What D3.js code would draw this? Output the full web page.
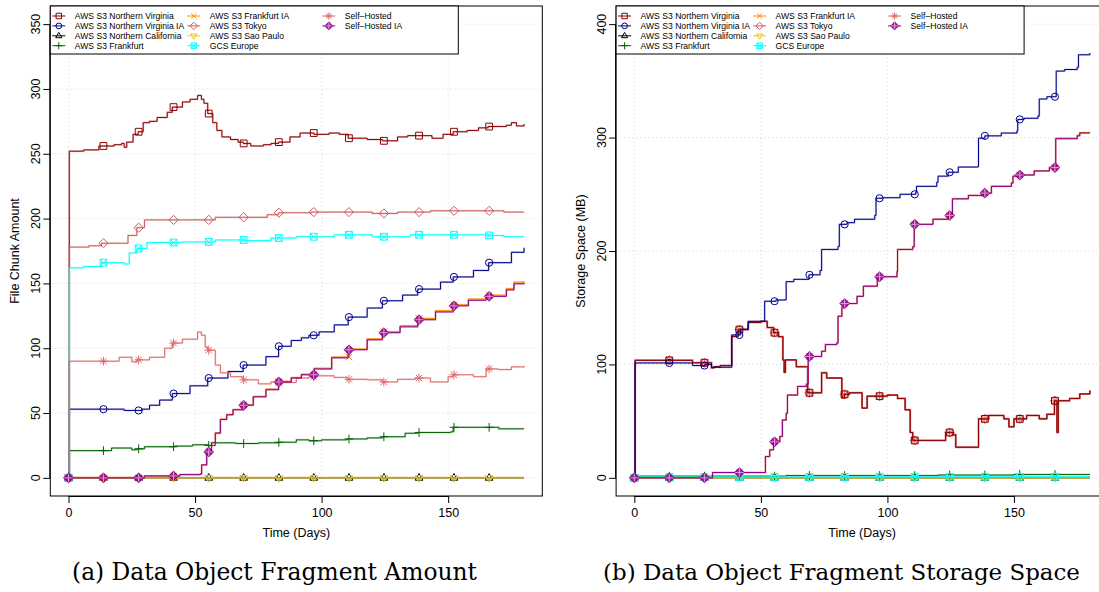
<!DOCTYPE html>
<html><head><meta charset="utf-8">
<script src="https://cdn.jsdelivr.net/npm/d3@7"></script>
<style>body{margin:0;background:#fff}svg{display:block}</style>
</head><body>
<svg id="chart" width="1099" height="592"></svg>
<script>
// ---------------- data ----------------
const seriesNames = ["AWS S3 Northern Virginia","AWS S3 Northern Virginia IA","AWS S3 Northern California","AWS S3 Frankfurt",
  "AWS S3 Frankfurt IA","AWS S3 Tokyo","AWS S3 Sao Paulo","GCS Europe","Self\u2013Hosted","Self\u2013Hosted IA"];
const markerDays = [0,13.8,27.7,41.5,55.4,69.2,83.1,96.9,110.8,124.6,138.5,152.3,166.2];
const xTicks = [0,50,100,150];
const yTicksAmount = [0,50,100,150,200,250,300,350];
const yTicksStorage = [0,100,200,300,400];
const captions = ["(a) Data Object Fragment Amount","(b) Data Object Fragment Storage Space"];
const axisTitles = {x:"Time (Days)", yAmount:"File Chunk Amount", yStorage:"Storage Space (MB)"};

// panel (a): file chunk amount, [day, value] step points
const amountNVirginia = [[0,0],[0.3,252],[6,253],[12,256],[18,257],[21,258],[22,255],[23,259],[25.5,265],[27.5,267],[29.5,274],[32,275],[35,278],[39,282],[41,286],[45,290],[48,292],[51,295],[52.5,292],[53.5,289],[55,281],[57,274],[58.6,268],[60.6,263],[64,261],[67,259],[69,258],[72,256],[77,257],[80,258],[83,259],[87.5,263],[91.5,266],[97,265],[103,266],[107,265],[110.5,262],[114,262],[118,261],[124,260],[130,263],[134,264],[138,264],[143.6,262],[148,265],[152,267],[157.5,268],[162,270],[165.8,271],[170.5,271],[173,272],[175,274],[177,271.5],[180,273]];
const amountNVirginiaIA = [[0,0],[0.3,53],[20,53],[22,52],[29,53],[32,56],[36,60],[41,65],[48,71],[55,77],[63,82],[69,87],[78,93.5],[83,101.5],[88,106],[92,108],[95,110],[99,112.6],[105,118],[110.5,124],[118,131],[124,136.6],[132,141],[138,145.6],[147,151],[152,155],[160,160],[166,166],[175,174],[180,177.5]];
const amountNCalifornia = [[0,0],[180,0]];
const amountFrankfurt = [[0,0],[0.3,21],[17,23],[25,21.6],[27,22.4],[30,24],[42,24.5],[49,25.5],[55,25],[58,27],[66,26.5],[75,27],[83,27.5],[90,29.3],[95,28.6],[100,29.3],[110,30],[118,30.8],[124,31.7],[133,34.4],[138,35],[151,35.5],[152,39],[170,37.8],[180,37.8]];
const amountFrankfurtIA = [[0,0],[30,1.5],[44,2.5],[52,3],[52.6,10],[54.6,20.3],[56.5,27.3],[58,34.8],[60,45.3],[62.5,48.9],[65,52.8],[69,56.3],[73,62.8],[78,68.5],[83,74.5],[88,77.5],[92,80],[97,84.6],[104,93.2],[111,99.4],[118,107.2],[124,112.8],[131,117.4],[138,123],[145,129],[152,133.5],[158,138],[166,141],[173,146],[176,151],[180,151.7]];
const amountTokyo = [[0,0],[0.3,178],[8,179],[13,181],[21,181],[23.5,187],[27,193],[30,199],[45,199],[58,201],[70,201],[78.5,203],[83,204.5],[96,205],[110,205],[120,204],[130,205],[140,205],[143,206],[165,206],[172,205],[180,205]];
const amountSaoPaulo = [[0,0],[180,0]];
const amountGCSEurope = [[0,0],[0.3,162],[6,163],[13,166],[22,165],[24,173.5],[27,177],[31,181.5],[45,182],[58,183.5],[70,183],[80,185],[90,186],[105,187.5],[120,186],[135,187.5],[155,187.5],[165,187],[172,186],[180,186]];
const amountSelfHosted = [[0,0],[0.3,90],[20,93],[25,89.5],[27,91],[32,93],[38,100],[41,104],[45,107],[51,112.5],[52.5,110],[54,101],[55,98.5],[58,87],[60,81],[64,78],[69,75.6],[75,72.5],[80,74],[83,73.5],[90,77],[95,78],[97,78.7],[105,77.5],[110,76],[118,75.6],[124,74],[130,76],[137,77],[143,74],[150,78],[152,79.5],[160,78],[165,84],[170,83.5],[175,85.6],[180,86.5]];
const amountSelfHostedIA = [[0,0],[30,1.5],[44,2.5],[52,3],[52.6,10],[54.6,20],[56.5,27],[58,34.5],[60,45],[62.5,48.6],[65,52.5],[69,56],[73,62.5],[78,68],[83,74],[88,77],[92,79.5],[97,84],[104,92.6],[110.5,98.8],[118,106.5],[124,112],[131,116.5],[138,122],[145,128],[152,132.7],[158,137],[165,140],[173,145],[176,149.7],[180,150.5]];

// panel (b): storage space (MB)
const storageNVirginia = [[0,0],[0.3,103.6],[23,101.5],[30.5,97],[31.5,98],[34,99],[38.5,124.6],[41,130.7],[45,137],[50,138],[52.5,132.5],[55,128],[57,124.5],[58.7,104],[59.2,93],[59.7,104],[64,98],[68.5,75],[74,92.6],[76,88],[82,70.6],[83,73.6],[85,75],[90,61.5],[92,72],[100,73],[104,70],[107,60],[109,40],[110,33],[122,33],[123,40],[126,38],[127,27],[135,27],[136,52],[140,55],[146,52],[148,45],[150,52],[155,55],[160,52],[163,56],[166,68],[167,40],[167.5,68],[172,70],[176,74],[180,77]];
const storageNVirginiaIA = [[0,0],[0.3,101.3],[23,99],[28,100],[30.5,97.5],[38.5,126],[42,131],[45,138],[51.5,155.7],[56,156.8],[59.5,157],[60,173],[63,175],[69,179],[73.4,182.8],[74,201.4],[80.5,204],[81,223.5],[84,225],[87,228],[95,231.4],[95.5,246.5],[98,247],[105,250],[111.2,251.7],[111.5,257],[119.5,260.6],[120,266],[124,269.4],[128,274],[135.8,274.7],[136,299.5],[138.5,301.5],[145,304],[151.2,306],[151.5,316],[154,317],[159.5,319],[160,334],[163,336],[166.7,358.6],[170,360],[175,362],[175.5,373],[180,374.6]];
const storageNCalifornia = [[0,0],[180,0]];
const storageFrankfurt = [[0,0],[0.3,1.5],[60,2],[120,2.5],[150,3],[180,3]];
const storageFrankfurtIA = [[0,0],[30.9,4.7],[51.8,18.8],[53.5,24.7],[55,31.8],[57.5,36.5],[58.5,51],[60,57],[60.5,73],[64.5,80.6],[68,82.7],[68.7,107],[74,111.6],[75.5,117.5],[80,119],[80.5,142.5],[82,150],[83,153.7],[88,160],[90.5,169],[96,177.3],[103.8,182],[104,201.4],[110,203.8],[110.6,223.5],[118,228],[124,231.4],[125.7,246],[132,249],[138,251],[141.1,257],[149,260],[149.6,266],[152,267],[158,270.6],[164,273.6],[166.5,299.5],[175,302],[176,304.5],[180,305]];
const storageTokyo = storageNVirginia;
const storageSaoPaulo = [[0,0],[180,0]];
const storageGCSEurope = [[0,0],[0.3,0.8],[90,1],[180,1.2]];
const storageSelfHosted = storageNVirginia;
const storageSelfHostedIA = [[0,0],[30.9,4.7],[51.8,18.8],[53.5,24.7],[55,31.8],[57.5,36.5],[58.5,51],[60,57],[60.5,73],[64.5,80.6],[68,82.7],[68.7,107],[74,111.6],[75.5,117.5],[80,119],[80.5,142.5],[82,150],[83,153.7],[88,160],[90.5,169],[96,177.3],[103.8,182],[104,201.4],[110,203.8],[110.6,223.5],[118,228],[124,231.4],[125.7,246],[132,249],[138,251],[141.1,257],[149,260],[149.6,266],[152,267],[158,270.6],[164,273.6],[166.5,299],[175,301.5],[176,304],[180,304]];

const amountSeries = [amountNVirginia,amountNVirginiaIA,amountNCalifornia,amountFrankfurt,amountFrankfurtIA,amountTokyo,amountSaoPaulo,amountGCSEurope,amountSelfHosted,amountSelfHostedIA];
const storageSeries = [storageNVirginia,storageNVirginiaIA,storageNCalifornia,storageFrankfurt,storageFrankfurtIA,storageTokyo,storageSaoPaulo,storageGCSEurope,storageSelfHosted,storageSelfHostedIA];

// ---------------- styles ----------------
const seriesColors = ["#8B0000","#00008B","#000000","#006400","#FF8C00","#CD5C5C","#F5C800","#00FFFF","#DE6A6A","#8B008B"];
const seriesShapes = ["square","circle","triangle","plus","cross","diamond","triangleDown","squareX","asterisk","diamondPlus"];
const drawOrderAmount = [0,1,2,3,4,5,6,7,8,9];
const drawOrderStorage = [5,8,0,1,2,3,4,6,7,9];
const sans = "'Liberation Sans', Arial, Helvetica, sans-serif";

const svg = d3.select("#chart");

function markerPath(shape, k){
  const s = 3.4*k;
  const p = d3.path();
  const tri = (dir)=>{ const h=4.3*k; p.moveTo(0,-dir*h); p.lineTo(h*0.9, dir*h*0.55); p.lineTo(-h*0.9, dir*h*0.55); p.closePath(); };
  const plus = (r)=>{ p.moveTo(-r,0); p.lineTo(r,0); p.moveTo(0,-r); p.lineTo(0,r); };
  const xx = (r)=>{ p.moveTo(-r,-r); p.lineTo(r,r); p.moveTo(-r,r); p.lineTo(r,-r); };
  const dia = (r)=>{ p.moveTo(0,-r); p.lineTo(r,0); p.lineTo(0,r); p.lineTo(-r,0); p.closePath(); };
  switch(shape){
    case "square": p.rect(-s,-s,2*s,2*s); break;
    case "circle": p.moveTo(3.6*k,0); p.arc(0,0,3.6*k,0,2*Math.PI); break;
    case "triangle": tri(1); break;
    case "triangleDown": tri(-1); break;
    case "plus": plus(4.4*k); break;
    case "cross": xx(3.3*k); break;
    case "diamond": dia(4.6*k); break;
    case "squareX": p.rect(-s,-s,2*s,2*s); xx(s); break;
    case "asterisk": plus(4.4*k); xx(3.2*k); break;
    case "diamondPlus": dia(4.6*k); plus(4.6*k); break;
  }
  return p.toString();
}

function drawMarker(g, i, cx, cy, k){
  const shape = seriesShapes[i], col = seriesColors[i];
  if(shape==="diamondPlus"){
    g.append("path").attr("transform",`translate(${cx},${cy})`)
      .attr("d", markerPath("diamond",k)).attr("fill",col).attr("fill-opacity",0.75).attr("stroke",col).attr("stroke-width",1.1);
    g.append("path").attr("transform",`translate(${cx},${cy})`)
      .attr("d", markerPath("plus",k*1.0)).attr("fill","none").attr("stroke","#E8A0E0").attr("stroke-width",0.9);
  } else {
    g.append("path").attr("transform",`translate(${cx},${cy})`)
      .attr("d", markerPath(shape,k)).attr("fill","none").attr("stroke",col).attr("stroke-width",1);
  }
}

function stepValue(data, day){
  let v = data[0][1];
  for(const [d,val] of data){ if(d<=day) v=val; else break; }
  return v;
}

function drawPanel(cfg){
  const g = svg.append("g");
  const boxL = cfg.left, boxR = cfg.left + 492, boxT = 6, boxB = 496;
  const x = d3.scaleLinear().domain([-7.2,187.2]).range([boxL,boxR]);
  const y = d3.scaleLinear().domain(cfg.yDomain).range([boxB,boxT]);
  const clipId = "clip"+cfg.id;
  svg.append("clipPath").attr("id",clipId).append("rect")
    .attr("x",boxL).attr("y",boxT).attr("width",boxR-boxL).attr("height",boxB-boxT);

  // grid
  const grid = g.append("g").attr("stroke","#d3d3d3").attr("stroke-width",0.9).attr("stroke-dasharray","1,3");
  xTicks.forEach(t=>grid.append("line").attr("x1",x(t)).attr("x2",x(t)).attr("y1",boxT).attr("y2",boxB));
  cfg.yTicks.forEach(t=>grid.append("line").attr("x1",boxL).attr("x2",boxR).attr("y1",y(t)).attr("y2",y(t)));

  // series
  const plot = g.append("g").attr("clip-path",`url(#${clipId})`);
  const line = d3.line().x(d=>x(d[0])).y(d=>y(d[1])).curve(d3.curveStepAfter);
  cfg.order.forEach(i=>{
    const data = cfg.series[i];
    const col = seriesColors[i];
    plot.append("path").attr("d",line(data)).attr("fill","none").attr("stroke",col).attr("stroke-opacity",0.22).attr("stroke-width",2);
    plot.append("path").attr("d",line(data)).attr("fill","none").attr("stroke",col).attr("stroke-width",1);
    markerDays.forEach(dd=>drawMarker(plot,i,x(dd),y(stepValue(data,dd)),1));
  });

  // box
  g.append("rect").attr("x",boxL).attr("y",boxT).attr("width",boxR-boxL).attr("height",boxB-boxT)
    .attr("fill","none").attr("stroke","#000").attr("stroke-width",1);

  // axes
  const xa = g.append("g").attr("transform",`translate(0,${boxB})`)
    .call(d3.axisBottom(x).tickValues(xTicks).tickSize(7).tickPadding(5).tickFormat(d3.format("d")));
  xa.select(".domain").attr("d",`M${x(xTicks[0])},0.5H${x(xTicks[xTicks.length-1])}`).attr("stroke","#000");
  xa.selectAll("text").attr("font-family",sans).attr("font-size","12.5px").attr("fill","#000");
  const ya = g.append("g").attr("transform",`translate(${boxL},0)`)
    .call(d3.axisLeft(y).tickValues(cfg.yTicks).tickSize(7).tickFormat(d3.format("d")));
  ya.select(".domain").attr("d",`M-0.5,${y(cfg.yTicks[0])}V${y(cfg.yTicks[cfg.yTicks.length-1])}`).attr("stroke","#000");
  ya.selectAll("text").remove();
  cfg.yTicks.forEach(t=>{
    g.append("text").attr("transform",`translate(${boxL-10},${y(t)}) rotate(-90)`)
      .attr("text-anchor","middle").attr("font-family",sans).attr("font-size","12.5px").text(t);
  });

  // titles
  g.append("text").attr("x",(boxL+boxR)/2).attr("y",537).attr("text-anchor","middle")
    .attr("font-family",sans).attr("font-size","12.5px").text(axisTitles.x);
  g.append("text").attr("transform",`translate(${boxL-31},${(boxT+boxB)/2}) rotate(-90)`)
    .attr("text-anchor","middle").attr("font-family",sans).attr("font-size","12.5px").text(cfg.yTitle);

  // legend
  const lg = g.append("g").attr("transform",`translate(${boxL},${boxT})`);
  lg.append("rect").attr("x",0).attr("y",0).attr("width",408).attr("height",48)
    .attr("fill","#fff").attr("stroke","#000").attr("stroke-width",1);
  seriesNames.forEach((name,i)=>{
    const col = Math.floor(i/4), row = i%4;
    const cx = col*135, cy = 10 + row*9.9;
    lg.append("line").attr("x1",cx+2).attr("x2",cx+15).attr("y1",cy).attr("y2",cy)
      .attr("stroke",seriesColors[i]).attr("stroke-width",1);
    drawMarker(lg,i,cx+8.5,cy,0.8);
    lg.append("text").attr("x",cx+24.5).attr("y",cy+3.1).attr("font-family",sans).attr("font-size","8.6px").text(name);
  });

  // caption
  const cap = g.append("text").attr("x",cfg.capX).attr("y",580).attr("text-anchor","middle")
    .attr("font-family","'DejaVu Serif', 'Liberation Serif', serif").attr("font-size","22px").text(cfg.caption);
  const w = cap.node().getComputedTextLength();
  cap.attr("font-size",(22*cfg.capW/w).toFixed(2)+"px");
}

drawPanel({id:"a", left:50.3, yDomain:[-14,364], yTicks:yTicksAmount, series:amountSeries, order:drawOrderAmount,
  yTitle:axisTitles.yAmount, caption:captions[0], capX:274.5, capW:405});
drawPanel({id:"b", left:616.1, yDomain:[-16,416], yTicks:yTicksStorage, series:storageSeries, order:drawOrderStorage,
  yTitle:axisTitles.yStorage, caption:captions[1], capX:841.5, capW:477});
</script>
</body></html>
